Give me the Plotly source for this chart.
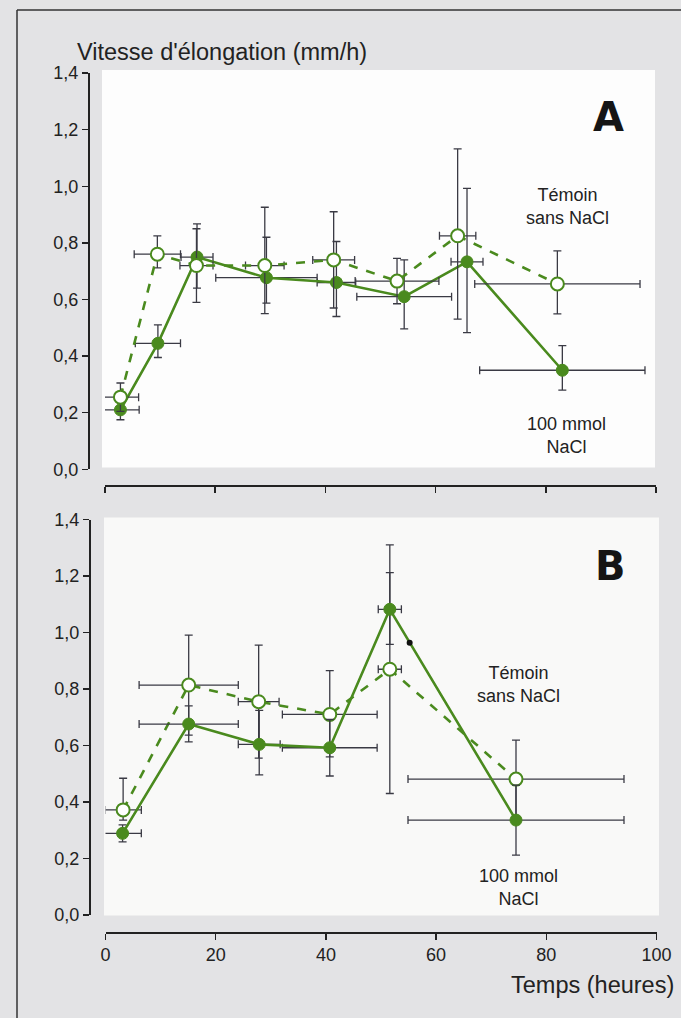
import plotly.graph_objects as go

W, H = 681, 1018

# ---------------- data ----------------
# Panel A
t_A_temoin = [2.8, 9.5, 16.6, 29.0, 41.5, 53.0, 64.0, 82.1]
v_A_temoin = [0.255, 0.76, 0.72, 0.72, 0.74, 0.665, 0.825, 0.655]
eyp_A_temoin = [0.05, 0.065, 0.13, 0.206, 0.17, 0.08, 0.307, 0.117]
eym_A_temoin = [0.05, 0.048, 0.13, 0.17, 0.17, 0.08, 0.294, 0.106]
ex_A_temoin = [3.3, 4.2, 3.0, 3.5, 3.8, 7.6, 3.3, 15.0]

t_A_nacl = [2.8, 9.6, 16.7, 29.3, 42.0, 54.3, 65.7, 83.0]
v_A_nacl = [0.21, 0.445, 0.75, 0.677, 0.66, 0.61, 0.733, 0.35]
eyp_A_nacl = [0.035, 0.065, 0.117, 0.143, 0.145, 0.13, 0.26, 0.087]
eym_A_nacl = [0.035, 0.05, 0.11, 0.09, 0.12, 0.114, 0.25, 0.07]
ex_A_nacl = [3.4, 4.1, 2.9, 9.2, 3.5, 8.6, 2.9, 15.0]

# Panel B
t_B_temoin = [3.2, 15.1, 27.8, 40.7, 51.6, 74.5]
v_B_temoin = [0.372, 0.814, 0.755, 0.71, 0.87, 0.481]
eyp_B_temoin = [0.112, 0.177, 0.2, 0.155, 0.44, 0.138]
eym_B_temoin = [0.036, 0.177, 0.2, 0.15, 0.44, 0.138]
ex_B_temoin = [3.3, 9.0, 3.7, 8.6, 2.1, 19.6]

t_B_nacl = [3.1, 15.1, 27.9, 40.7, 51.6, 74.5]
v_B_nacl = [0.289, 0.676, 0.604, 0.592, 1.082, 0.336]
eyp_B_nacl = [0.03, 0.064, 0.12, 0.1, 0.13, 0.124]
eym_B_nacl = [0.03, 0.063, 0.108, 0.1, 0.124, 0.124]
ex_B_nacl = [3.4, 9.0, 3.8, 8.6, 2.1, 19.6]

# small dark spot printed on panel B line
t_B_spot = [55.2]
v_B_spot = [0.964]

# ticks
y_tickvals = [0.0, 0.2, 0.4, 0.6, 0.8, 1.0, 1.2, 1.4]
y_ticktext = ["0,0", "0,2", "0,4", "0,6", "0,8", "1,0", "1,2", "1,4"]
x_tickvals = [0, 20, 40, 60, 80, 100]
x_ticktext = ["0", "20", "40", "60", "80", "100"]

# ---------------- style ----------------
GREEN = "#4a8a1e"
ERR = "#3a3a44"
FONT = "Liberation Sans, Arial, sans-serif"
BG = "#e3e3e5"


def px(x):
    return x / W


def py(y):
    return 1 - y / H


def err(arr_p, arr_m=None):
    d = dict(type="data", array=arr_p, color=ERR, thickness=1.3, width=4)
    if arr_m is not None:
        d["symmetric"] = False
        d["arrayminus"] = arr_m
    return d


fig = go.Figure()


def add_series(t, v, exp, exm, ex, xa, ya, open_marker, name):
    if open_marker:
        marker = dict(size=13, color="white", line=dict(color=GREEN, width=2))
        line = dict(color=GREEN, width=2.6, dash="dash")
    else:
        marker = dict(size=12, color=GREEN, line=dict(color=GREEN, width=1))
        line = dict(color=GREEN, width=2.6)
    fig.add_trace(go.Scatter(
        x=t, y=v, mode="lines+markers", name=name,
        xaxis=xa, yaxis=ya, line=line, marker=marker,
        error_y=err(exp, exm), error_x=err(ex),
        cliponaxis=False, showlegend=False, hoverinfo="skip",
    ))


add_series(t_A_nacl, v_A_nacl, eyp_A_nacl, eym_A_nacl, ex_A_nacl, "x", "y", False, "100 mmol NaCl")
add_series(t_A_temoin, v_A_temoin, eyp_A_temoin, eym_A_temoin, ex_A_temoin, "x", "y", True, "Témoin sans NaCl")
add_series(t_B_temoin, v_B_temoin, eyp_B_temoin, eym_B_temoin, ex_B_temoin, "x2", "y2", True, "Témoin sans NaCl")
add_series(t_B_nacl, v_B_nacl, eyp_B_nacl, eym_B_nacl, ex_B_nacl, "x2", "y2", False, "100 mmol NaCl")

fig.add_trace(go.Scatter(
    x=t_B_spot, y=v_B_spot, mode="markers", xaxis="x2", yaxis="y2",
    marker=dict(size=6, color="#111111"), showlegend=False, cliponaxis=False,
    hoverinfo="skip",
))

axis_common = dict(
    showgrid=False, zeroline=False, showline=True, linecolor="#222222",
    linewidth=1.6, ticks="outside", ticklen=6, tickwidth=1.5, tickcolor="#222222",
    tickfont=dict(family=FONT, size=18, color="#222222"), fixedrange=True,
    automargin=False,
)
# overlay axes only used to make the tick marks cross the axis line
cross_common = dict(
    showgrid=False, zeroline=False, showline=False, ticks="inside", ticklen=4,
    tickwidth=1.5, tickcolor="#222222", showticklabels=False, fixedrange=True,
    automargin=False,
)

xA = dict(domain=[px(105), px(656)], range=[0, 100], anchor="free", position=py(485),
          tickvals=x_tickvals, ticktext=x_ticktext)
yA = dict(domain=[py(469.3), py(73.1)], range=[0, 1.4], anchor="free", position=px(88),
          tickvals=y_tickvals, ticktext=y_ticktext)
xB = dict(domain=[px(105.5), px(656.5)], range=[0, 100], anchor="free", position=py(932),
          tickvals=x_tickvals, ticktext=x_ticktext)
yB = dict(domain=[py(915), py(519.5)], range=[0, 1.4], anchor="free", position=px(89),
          tickvals=y_tickvals, ticktext=y_ticktext)

fig.update_layout(
    xaxis=dict(**xA, showticklabels=False, **axis_common),
    yaxis=dict(**yA, **axis_common),
    xaxis2=dict(**xB, **axis_common),
    yaxis2=dict(**yB, **axis_common),
    xaxis3=dict(**xA, overlaying="x", **cross_common),
    yaxis3=dict(**yA, overlaying="y", **cross_common),
    xaxis4=dict(**xB, overlaying="x2", **cross_common),
    yaxis4=dict(**yB, overlaying="y2", **cross_common),
)

shapes = [
    dict(type="rect", xref="paper", yref="paper", x0=px(102), x1=px(655),
         y0=py(467.5), y1=py(70), fillcolor="#fdfdfd", line=dict(width=0), layer="below"),
    dict(type="rect", xref="paper", yref="paper", x0=px(104), x1=px(659),
         y0=py(915.5), y1=py(517.5), fillcolor="#f9f9f8", line=dict(width=0), layer="below"),
    dict(type="line", xref="paper", yref="paper", x0=px(17), x1=1, y0=py(10), y1=py(10),
         line=dict(color="#333333", width=1.5)),
    dict(type="line", xref="paper", yref="paper", x0=px(17), x1=px(17), y0=py(10), y1=0,
         line=dict(color="#333333", width=1.5)),
]

ann_font = dict(family=FONT, size=18, color="#222222")
annotations = [
    dict(text="Vitesse d'élongation (mm/h)", x=px(75), y=py(52), xanchor="left",
         yanchor="middle", font=dict(family=FONT, size=23.5, color="#222222")),
    dict(text="Temps (heures)", x=px(676), y=py(985), xanchor="right",
         yanchor="middle", font=dict(family=FONT, size=23.5, color="#222222")),
    dict(text="<b>A</b>", x=px(608), y=py(117), xanchor="center", yanchor="middle",
         font=dict(family="DejaVu Sans, sans-serif", size=40, color="#151515")),
    dict(text="<b>B</b>", x=px(610), y=py(566), xanchor="center", yanchor="middle",
         font=dict(family="DejaVu Sans, sans-serif", size=40, color="#151515")),
    dict(text="Témoin<br>sans NaCl", x=px(567), y=py(207), xanchor="center",
         yanchor="middle", align="center", font=ann_font),
    dict(text="100 mmol<br>NaCl", x=px(566), y=py(435), xanchor="center",
         yanchor="middle", align="center", font=ann_font),
    dict(text="Témoin<br>sans NaCl", x=px(518), y=py(684), xanchor="center",
         yanchor="middle", align="center", font=ann_font),
    dict(text="100 mmol<br>NaCl", x=px(518), y=py(887), xanchor="center",
         yanchor="middle", align="center", font=ann_font),
]
for a in annotations:
    a.update(xref="paper", yref="paper", showarrow=False)

fig.update_layout(
    width=W, height=H, autosize=False,
    margin=dict(l=0, r=0, t=0, b=0, pad=0, autoexpand=False),
    paper_bgcolor=BG, plot_bgcolor="rgba(0,0,0,0)",
    shapes=shapes, annotations=annotations, showlegend=False,
    hovermode=False, dragmode=False,
)

fig.write_html(
    "out.html",
    config={"displayModeBar": False, "staticPlot": True},
    post_script="document.body.style.margin='0px';document.body.style.padding='0px';"
                "document.body.style.overflow='hidden';",
)
